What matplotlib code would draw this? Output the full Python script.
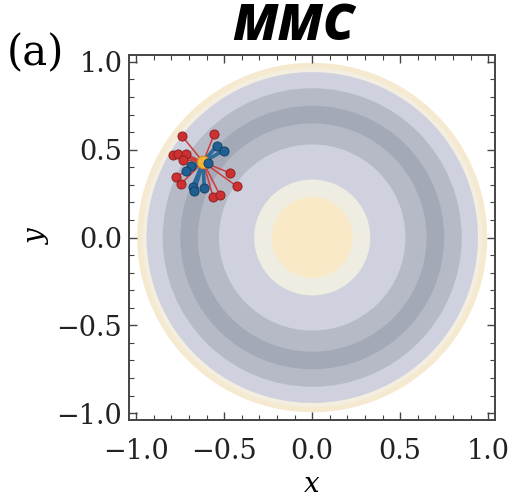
import matplotlib
matplotlib.use("Agg")
import matplotlib.pyplot as plt
from matplotlib.patches import Circle
from matplotlib.ticker import MultipleLocator

# contour bands of the trap, outermost first
ring_radii = [0.995, 0.965, 0.942, 0.85, 0.75, 0.65, 0.53, 0.33, 0.23]
ring_colors = ['#f5ead0', '#f3eee0', '#cfd2de', '#b6bac7', '#a4a9b7', '#b6bac7',
               '#cfd2de', '#efece2', '#f9e9c7']

# central particle and its neighbours
center = (-0.62, 0.43)
red_x = [-0.742, -0.557, -0.793, -0.761, -0.718, -0.737,
         -0.775, -0.746, -0.469, -0.429, -0.563, -0.524]
red_y = [0.580, 0.589, 0.470, 0.476, 0.476, 0.442,
         0.346, 0.306, 0.368, 0.292, 0.230, 0.240]
blue_x = [-0.542, -0.504, -0.690, -0.718, -0.680, -0.671, -0.614, -0.591]
blue_y = [0.523, 0.495, 0.410, 0.381, 0.287, 0.264, 0.281, 0.423]

serif = 'DejaVu Serif'

fig = plt.figure(figsize=(5.11, 4.99), dpi=100)
ax = fig.add_axes([0.253, 0.158, 0.716, 0.732])

for r, c in zip(ring_radii, ring_colors):
    ax.add_patch(Circle((0, 0), r, facecolor=c, edgecolor='none', zorder=1))

# bonds
for x, y in zip(red_x, red_y):
    ax.plot([center[0], x], [center[1], y], color='#d03a3a', lw=1.1, zorder=2)
for x, y in zip(blue_x, blue_y):
    ax.plot([center[0], x], [center[1], y], color='#2b6a9c', lw=2.6, zorder=3)

ax.plot(red_x, red_y, 'o', ms=6.6, color='#cc3030', mec='#8a1c1c', mew=0.6, zorder=4)
ax.plot(*center, 'o', ms=9, color='#f2b638', mec='#d88a1a', mew=0.8, zorder=5)
ax.plot(blue_x, blue_y, 'o', ms=6.6, color='#1f5f92', mec='#0e3a5e', mew=0.6, zorder=6)

ax.set_xlim(-1.04, 1.04)
ax.set_ylim(-1.04, 1.04)
ax.xaxis.set_major_locator(MultipleLocator(0.5))
ax.yaxis.set_major_locator(MultipleLocator(0.5))
ax.xaxis.set_minor_locator(MultipleLocator(0.1))
ax.yaxis.set_minor_locator(MultipleLocator(0.1))
ax.tick_params(which='both', direction='in', top=True, right=True, color='#444444')
ax.tick_params(which='major', length=6, width=1.0)
ax.tick_params(which='minor', length=3.5, width=0.8)
ax.tick_params(axis='x', pad=13)
ax.tick_params(axis='y', pad=5)
for lab in ax.get_xticklabels() + ax.get_yticklabels():
    lab.set_fontfamily(serif)
    lab.set_fontsize(19.5)
    lab.set_color('#222222')
for s in ax.spines.values():
    s.set_color('#444444')
    s.set_linewidth(1.4)

ax.set_xlabel('x', family=serif, style='italic', fontsize=20, labelpad=4)
ax.set_ylabel('y', family=serif, style='italic', fontsize=20, labelpad=5)

fig.text(0.575, 0.92, 'MMC', family='Open Sans', weight='heavy', style='italic',
         fontsize=36, ha='center', va='baseline')
fig.text(0.07, 0.893, '(a)', family=serif, fontsize=30, ha='center', va='center')

fig.savefig('out.png', dpi=100)
